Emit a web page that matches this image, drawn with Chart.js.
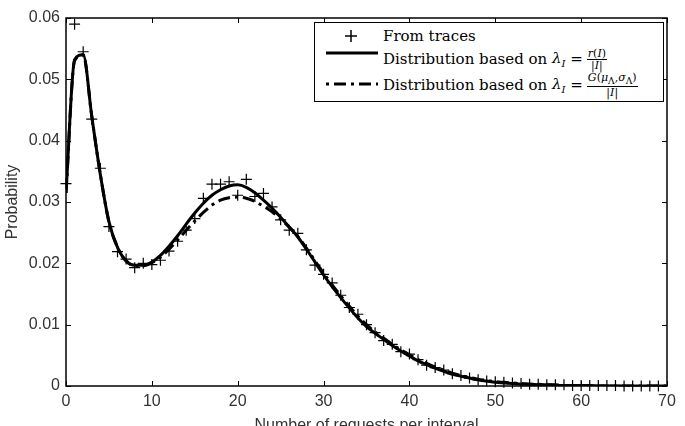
<!DOCTYPE html>
<html>
<head>
<meta charset="utf-8">
<script src="https://cdn.jsdelivr.net/npm/chart.js@4"></script>
<style>
  body { margin: 0; background: #fff; }
  #wrap { position: relative; width: 685px; height: 426px; }
  #legend {
    position: absolute; left: 314px; top: 22px; width: 348px; height: 78px;
    border: 1.5px solid #000; background: #fff;
    font-family: "DejaVu Serif", "Liberation Serif", serif; font-size: 15px; color: #000;
  }
  #legend svg { position: absolute; left: 0; top: 0; }
  .row { position: absolute; left: 68px; height: 26px; display: flex; align-items: center; white-space: nowrap; }
  .frac { display: inline-flex; flex-direction: column; align-items: center; font-size: 11px; line-height: 11px; margin-left: 4px; }
  .frac .num { border-bottom: 0.8px solid #000; padding: 0 1px; }
  i sub { font-size: 10px; }
</style>
</head>
<body>
<div id="wrap">
  <canvas id="chart" width="685" height="426"></canvas>
  <div id="legend">
    <svg width="348" height="78">
      <line x1="30" y1="13" x2="42" y2="13" stroke="#000" stroke-width="1.5"/>
      <line x1="36" y1="7" x2="36" y2="19" stroke="#000" stroke-width="1.5"/>
      <line x1="11" y1="30" x2="63" y2="30" stroke="#000" stroke-width="3"/>
      <line x1="11" y1="61" x2="63" y2="61" stroke="#000" stroke-width="3" stroke-dasharray="3 5 12 5"/>
    </svg>
    <div class="row" style="top:0px">From traces</div>
    <div class="row" style="top:23px">Distribution based on&nbsp;<i>λ<sub>I</sub></i>&nbsp;=<span class="frac"><span class="num"><i>r</i>(<i>I</i>)</span><span>|<i>I</i>|</span></span></div>
    <div class="row" style="top:49px">Distribution based on&nbsp;<i>λ<sub>I</sub></i>&nbsp;=<span class="frac"><span class="num"><i>G</i>(<i>μ</i><sub>Λ</sub>,<i>σ</i><sub>Λ</sub>)</span><span>|<i>I</i>|</span></span></div>
  </div>
</div>
<script>
const traceX = [0, 1, 2, 3, 4, 5, 6, 7, 8, 9, 10, 11, 12, 13, 14, 15, 16, 17, 18, 19,
  20, 21, 22, 23, 24, 25, 26, 27, 28, 29, 30, 31, 32, 33, 34, 35, 36, 37, 38, 39,
  40, 41, 42, 43, 44, 45, 46, 47, 48, 49, 50, 51, 52, 53, 54, 55, 56, 57, 58, 59,
  60, 61, 62, 63, 64, 65, 66, 67, 68, 69];
const traceY = [0.0330, 0.0590, 0.0545, 0.0435, 0.0355, 0.0260, 0.0219, 0.0207, 0.0193, 0.0200,
  0.0198, 0.0205, 0.0220, 0.0236, 0.0254, 0.0273, 0.0306, 0.0329, 0.0329, 0.0333,
  0.0311, 0.0337, 0.0309, 0.0314, 0.0292, 0.0271, 0.0254, 0.0249, 0.0222, 0.0197,
  0.0182, 0.0168, 0.0148, 0.0128, 0.0117, 0.0100, 0.0087, 0.0074, 0.0068, 0.0056,
  0.0052, 0.0043, 0.0034, 0.0030, 0.0026, 0.0020, 0.0017, 0.0013, 0.0010, 0.0008,
  0.0007, 0.0006, 0.0005, 0.0004, 0.0003, 0.0003, 0.0002, 0.0002, 0.0002, 0.0001,
  0.0001, 0.0001, 0.0001, 0.0001, 0.0001, 0.0000, 0.0000, 0.0000, 0.0000, 0.0000];

const curveX = [0, 1, 2, 3, 4, 5, 6, 7, 8, 9, 10, 11, 12, 13, 14, 15, 16, 17, 18, 19,
  20, 21, 22, 23, 24, 25, 26, 27, 28, 29, 30, 31, 32, 33, 34, 35, 36, 37, 38, 39,
  40, 41, 42, 43, 44, 45, 46, 47, 48, 49, 50, 51, 52, 53, 54, 55, 56, 57, 58, 59,
  60, 61, 62, 63, 64, 65, 66, 67, 68, 69, 70];
// lambda_I = r(I)/|I|
const rateY = [0.0315, 0.0532, 0.0540, 0.0440, 0.0345, 0.0268, 0.0226, 0.0204, 0.0197, 0.0197,
  0.0202, 0.0213, 0.0228, 0.0245, 0.0264, 0.0282, 0.0298, 0.0311, 0.0320, 0.0326,
  0.0328, 0.0324, 0.0315, 0.0303, 0.0290, 0.0275, 0.0259, 0.0243, 0.0223, 0.0202,
  0.0181, 0.0162, 0.0144, 0.0127, 0.0111, 0.0097, 0.0086, 0.0076, 0.0066, 0.0057,
  0.0049, 0.0041, 0.0035, 0.0029, 0.0024, 0.0019, 0.0016, 0.0013, 0.0010, 0.0008,
  0.0006, 0.0005, 0.0004, 0.0003, 0.0003, 0.0002, 0.0002, 0.0001, 0.0001, 0.0001,
  0.0001, 0.0001, 0.0000, 0.0000, 0.0000, 0.0000, 0.0000, 0.0000, 0.0000, 0.0000, 0.0000];
// lambda_I = G(mu, sigma)/|I|
const gaussY = [0.0315, 0.0530, 0.0540, 0.0440, 0.0345, 0.0268, 0.0226, 0.0204, 0.0196, 0.0196,
  0.0201, 0.0210, 0.0223, 0.0238, 0.0254, 0.0269, 0.0283, 0.0295, 0.0303, 0.0307,
  0.0308, 0.0306, 0.0301, 0.0293, 0.0284, 0.0272, 0.0259, 0.0244, 0.0225, 0.0204,
  0.0184, 0.0165, 0.0147, 0.0130, 0.0114, 0.0100, 0.0088, 0.0078, 0.0068, 0.0059,
  0.0051, 0.0043, 0.0037, 0.0031, 0.0026, 0.0021, 0.0017, 0.0014, 0.0011, 0.0009,
  0.0007, 0.0006, 0.0005, 0.0004, 0.0003, 0.0003, 0.0002, 0.0002, 0.0001, 0.0001,
  0.0001, 0.0001, 0.0000, 0.0000, 0.0000, 0.0000, 0.0000, 0.0000, 0.0000, 0.0000, 0.0000];

const xTicks = [0, 10, 20, 30, 40, 50, 60, 70];
const yTicks = [0, 0.01, 0.02, 0.03, 0.04, 0.05, 0.06];

const toPoints = (xs, ys) => xs.map((x, i) => ({ x: x, y: ys[i] }));

// matlab style box with inward ticks on all four sides
const frameTicks = {
  id: 'frameTicks',
  afterDatasetsDraw(chart) {
    const { ctx, chartArea: a, scales } = chart;
    ctx.save();
    ctx.strokeStyle = '#000';
    ctx.lineWidth = 1;
    ctx.beginPath();
    xTicks.forEach((v) => {
      const px = Math.round(scales.x.getPixelForValue(v)) + 0.5;
      ctx.moveTo(px, a.bottom); ctx.lineTo(px, a.bottom - 5);
      ctx.moveTo(px, a.top); ctx.lineTo(px, a.top + 5);
    });
    yTicks.forEach((v) => {
      const py = Math.round(scales.y.getPixelForValue(v)) + 0.5;
      ctx.moveTo(a.left, py); ctx.lineTo(a.left + 5, py);
      ctx.moveTo(a.right, py); ctx.lineTo(a.right - 5, py);
    });
    ctx.stroke();
    ctx.lineWidth = 1.5;
    ctx.strokeRect(a.left, a.top, a.right - a.left, a.bottom - a.top);
    ctx.restore();
  },
};

const tickFont = { family: '"Liberation Sans", Arial, sans-serif', size: 16 };

const config = {
  type: 'line',
  data: {
    datasets: [
      {
        label: 'From traces',
        data: toPoints(traceX, traceY),
        showLine: false,
        pointStyle: 'cross',
        pointRadius: 5.5,
        pointBorderWidth: 1.2,
        pointBorderColor: '#000',
        clip: 8,
      },
      {
        label: 'Distribution based on λI = r(I)/|I|',
        data: toPoints(curveX, rateY),
        borderColor: '#000',
        borderWidth: 3,
        pointRadius: 0,
        cubicInterpolationMode: 'monotone',
      },
      {
        label: 'Distribution based on λI = G(μΛ,σΛ)/|I|',
        data: toPoints(curveX, gaussY),
        borderColor: '#000',
        borderWidth: 3,
        borderDash: [12, 5, 3, 5],
        pointRadius: 0,
        cubicInterpolationMode: 'monotone',
      },
    ],
  },
  plugins: [frameTicks],
  options: {
    responsive: false,
    animation: false,
    layout: { padding: { top: 18, right: 18, left: 0, bottom: 0 } },
    plugins: {
      legend: { display: false },
      tooltip: { enabled: false },
    },
    scales: {
      x: {
        type: 'linear',
        min: 0,
        max: 70,
        afterBuildTicks: (scale) => { scale.ticks = xTicks.map((v) => ({ value: v })); },
        ticks: { color: '#333', font: tickFont, padding: 6, maxRotation: 0 },
        grid: { display: false, drawTicks: false },
        border: { display: false },
        title: {
          display: true,
          text: 'Number of requests per interval',
          color: '#333',
          font: tickFont,
          padding: { top: 0, bottom: -9 },
        },
        afterFit: (scale) => { scale.height = 40; },
      },
      y: {
        type: 'linear',
        min: 0,
        max: 0.06,
        afterBuildTicks: (scale) => { scale.ticks = yTicks.map((v) => ({ value: v })); },
        ticks: {
          color: '#333',
          font: tickFont,
          padding: 6,
          callback: (v) => (v === 0 ? '0' : v.toFixed(2)),
        },
        grid: { display: false, drawTicks: false },
        border: { display: false },
        title: {
          display: true,
          text: 'Probability',
          color: '#333',
          font: tickFont,
          padding: { top: 3, bottom: 0 },
        },
        afterFit: (scale) => { scale.width = 66; },
      },
    },
  },
};

new Chart(document.getElementById('chart').getContext('2d'), config);
</script>
</body>
</html>
